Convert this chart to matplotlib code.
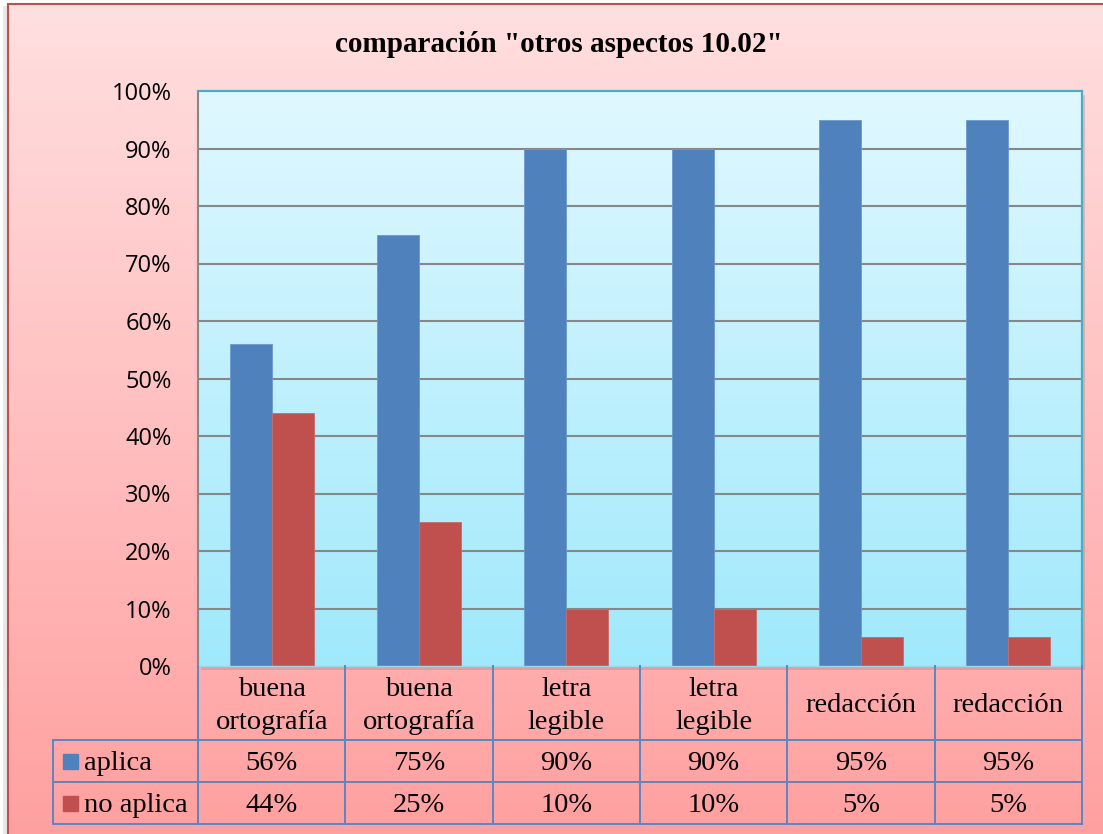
import numpy as np
import matplotlib
matplotlib.use("Agg")
import matplotlib.pyplot as plt
import matplotlib.transforms as mtransforms
from matplotlib.lines import Line2D
from matplotlib.patches import Rectangle

categories = ["buena\nortografía", "buena\nortografía", "letra\nlegible",
              "letra\nlegible", "redacción", "redacción"]
aplica = [56, 75, 90, 90, 95, 95]
no_aplica = [44, 25, 10, 10, 5, 5]
series_names = ["aplica", "no aplica"]
yticks = [0, 10, 20, 30, 40, 50, 60, 70, 80, 90, 100]
title = 'comparación "otros aspectos 10.02"'

BLUE = "#4F81BD"
RED = "#C0504D"
LINE = "#5A87C2"
SERIF = ["Liberation Serif", "DejaVu Serif"]
SANS = ["Open Sans", "DejaVu Sans"]
TFS = 20.5

W, H = 1103, 834
fig = plt.figure(figsize=(W / 100, H / 100), dpi=100, facecolor="white")

# chart-area background (pink gradient)
bg = fig.add_axes([8 / W, 0, 1 - 8 / W, 1 - 4 / H], zorder=-10)
grad = np.linspace(0, 1, 256)[:, None]
top_c = np.array([255, 223, 224]) / 255
bot_c = np.array([255, 160, 160]) / 255
img = top_c[None, None, :] * (1 - grad[..., None]) + bot_c[None, None, :] * grad[..., None]
img = np.repeat(img, 2, axis=1)
bg.imshow(img, aspect="auto", extent=[0, 1, 0, 1], origin="upper")
bg.set_xlim(0, 1); bg.set_ylim(0, 1)
bg.axis("off")

# border of chart area
fig.add_artist(Line2D([8 / W, 8 / W], [0, 1 - 4 / H], transform=fig.transFigure,
                      color=RED, lw=1.5))
fig.add_artist(Line2D([8 / W, 1], [1 - 4 / H, 1 - 4 / H], transform=fig.transFigure,
                      color=RED, lw=1.5))
fig.add_artist(Rectangle((3 / W, 0), 5 / W, 1 - 6 / H, transform=fig.transFigure,
                         color="#d9d9d9", alpha=0.6, lw=0, zorder=-11))

left, right, bottom, top = 198 / W, 1082 / W, 1 - 666 / H, 1 - 91 / H
ax = fig.add_axes([left, bottom, right - left, top - bottom])

# shadow of plot area
fig.add_artist(Rectangle((left + 3 / W, bottom - 4 / H), right - left, top - bottom,
                         transform=fig.transFigure, color="#b08080", alpha=0.35,
                         lw=0, zorder=0.5))

ax.set_xlim(-0.5, len(categories) - 0.5)
ax.set_ylim(0, 100)
ax.set_zorder(1)

# plot-area gradient
pgrad = np.linspace(0, 1, 256)[:, None]
ptop = np.array([224, 248, 255]) / 255
pbot = np.array([160, 233, 252]) / 255
pimg = ptop[None, None, :] * (1 - pgrad[..., None]) + pbot[None, None, :] * pgrad[..., None]
pimg = np.repeat(pimg, 2, axis=1)
ax.imshow(pimg, aspect="auto", extent=[-0.5, len(categories) - 0.5, 0, 100],
          origin="upper", zorder=0)

x = np.arange(len(categories))
bw = 0.285
ax.bar(x - bw / 2, aplica, width=bw, color=BLUE, edgecolor="#6B98CE", lw=0.6, zorder=3)
ax.bar(x + bw / 2, no_aplica, width=bw, color=RED, edgecolor="#C96A68", lw=0.6, zorder=3)

ax.set_yticks(yticks)
ax.set_yticklabels([f"{v}%" for v in yticks], family=SANS, fontsize=17)
ax.tick_params(axis="y", length=0, pad=19)
ax.set_xticks([])
for v in yticks[1:-1]:
    ax.axhline(v, color="#878787", lw=1.5, zorder=2)

for s in ["top", "right"]:
    ax.spines[s].set_color("#4BACC6"); ax.spines[s].set_linewidth(1.6)
ax.spines["left"].set_color("#878787"); ax.spines["left"].set_linewidth(1.5)
ax.spines["bottom"].set_color("#9BD8EA"); ax.spines["bottom"].set_linewidth(1.0)
for s in ax.spines.values():
    s.set_zorder(4)

# title
fig.text(0.507, 1 - 52 / H, title, family=SERIF, fontsize=21, fontweight="bold",
         ha="center", va="baseline")

# data table
ah = 666 - 91
y_head = -(740 - 666) / ah
y_r1 = -(782 - 666) / ah
y_r2 = -(824 - 666) / ah
dy = -3 / ah
leg_left = (53 - 198) / 884
tb = mtransforms.blended_transform_factory(ax.transData, ax.transAxes)
n = len(categories)
for k in range(n + 1):
    ax.add_line(Line2D([k - 0.5, k - 0.5], [0, y_r2], transform=tb, color=LINE,
                       lw=1.4, clip_on=False, zorder=5))
for yy in [y_head, y_r1, y_r2]:
    ax.add_line(Line2D([leg_left, 1], [yy, yy], transform=ax.transAxes, color=LINE,
                       lw=1.4, clip_on=False, zorder=5))
ax.add_line(Line2D([leg_left, leg_left], [y_head, y_r2], transform=ax.transAxes,
                   color=LINE, lw=1.4, clip_on=False, zorder=5))

for i, c in enumerate(categories):
    ax.text(i, y_head / 2 + dy, c, transform=tb, ha="center", va="center", family=SERIF,
            fontsize=TFS, linespacing=1.42, clip_on=False)
    ax.text(i, (y_head + y_r1) / 2 + dy, f"{aplica[i]}%", transform=tb, ha="center",
            va="center", family=SERIF, fontsize=TFS, clip_on=False)
    ax.text(i, (y_r1 + y_r2) / 2 + dy, f"{no_aplica[i]}%", transform=tb, ha="center",
            va="center", family=SERIF, fontsize=TFS, clip_on=False)

sq = 15
for name, col, (y0, y1) in zip(series_names, [BLUE, RED],
                               [(y_head, y_r1), (y_r1, y_r2)]):
    ymid = (y0 + y1) / 2
    ax.add_patch(Rectangle(((63 - 198) / 884, ymid - (sq / 2) / ah), sq / 884, sq / ah,
                           transform=ax.transAxes, color=col, clip_on=False, zorder=5))
    ax.text((84 - 198) / 884, ymid + dy, name, transform=ax.transAxes, ha="left",
            va="center", family=SERIF, fontsize=TFS, clip_on=False)

fig.savefig("out.png", dpi=100, facecolor=fig.get_facecolor())
